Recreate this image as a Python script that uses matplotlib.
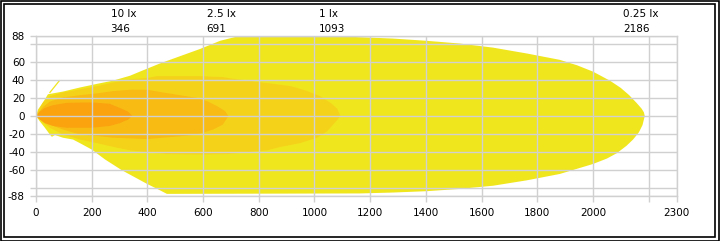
import numpy as np
import matplotlib
matplotlib.use("Agg")
import matplotlib.pyplot as plt
from matplotlib.patches import Rectangle

# isolux outlines (distance in m, lateral in m)
outer_top_x = [0, 7, 25, 43, 61, 97, 158, 219, 276, 338, 373, 445, 517, 589, 661, 725,
               1090, 1163, 1282, 1404, 1522, 1641, 1763, 1881, 1943, 2000, 2061, 2100,
               2130, 2158, 2175, 2183, 2186]
outer_top_y = [0, 7, 15, 24, 25, 27, 31.5, 35.5, 39, 44.5, 49, 58, 66, 74, 83, 88,
               88, 87, 85.5, 83, 80, 75.5, 69, 62, 56, 49, 39, 31,
               23, 14, 8, 4, 0]
outer_bot_x = [0, 14, 32, 50, 57, 68, 97, 133, 158, 200, 248, 309, 399, 445, 470,
               1163, 1282, 1404, 1522, 1641, 1763, 1881, 2000, 2050, 2086, 2120, 2144,
               2165, 2178, 2186]
outer_bot_y = [0, -6, -13, -20.5, -23, -21, -24, -26, -30, -37, -48, -60, -75, -82, -86,
               -85.5, -84.5, -83, -80.5, -77, -71, -64, -53, -47, -41, -33, -26,
               -18, -10, 0]

lx1_top_x = [0, 14, 25, 50, 97, 158, 219, 276, 338, 399, 434, 589, 671, 700, 760, 840,
             915, 970, 1020, 1060, 1082, 1093]
lx1_top_y = [0, 9, 15, 22, 26, 29.5, 33, 37, 40.5, 42, 44, 44, 43, 41.5, 39, 36,
             33, 28, 22, 14, 8, 0]
lx1_bot_x = [0, 14, 25, 50, 97, 158, 219, 276, 338, 399, 470, 589, 689, 758, 829, 880,
             948, 1009, 1045, 1080, 1093]
lx1_bot_y = [0, -4, -7, -13, -20.5, -26, -30, -34, -38, -40, -42, -42.5, -42, -40, -38, -34,
             -30, -24, -17, -5, 0]

lx25_top_x = [0, 25, 50, 97, 158, 219, 276, 338, 399, 456, 517, 578, 614, 650, 679, 691]
lx25_top_y = [0, 10, 16, 20.5, 23, 25, 27.5, 29, 29, 26, 23, 20, 16.5, 11, 5.5, 0]
lx25_bot_x = [0, 25, 50, 97, 158, 219, 276, 399, 456, 517, 578, 636, 671, 691]
lx25_bot_y = [0, -5, -9.5, -15, -20.5, -22, -24, -25.5, -24, -22.4, -20.5, -15, -9.5, 0]

lx10_top_x = [0, 14, 32, 61, 110, 200, 265, 300, 330, 346]
lx10_top_y = [0, 5, 9, 12, 14.5, 15, 13.5, 9, 5, 0]
lx10_bot_x = [0, 14, 32, 61, 110, 200, 265, 300, 330, 346]
lx10_bot_y = [0, -4, -8, -11, -13, -13, -11, -8, -4, 0]

spike_x = [50, 84]
spike_y = [26, 39]

lux_names = ["10 lx", "2.5 lx", "1 lx", "0.25 lx"]
lux_dist = [346, 691, 1093, 2186]

x_ticks = [0, 200, 400, 600, 800, 1000, 1200, 1400, 1600, 1800, 2000, 2200, 2300]
x_labels = ["0", "200", "400", "600", "800", "1000", "1200", "1400", "1600", "1800", "2000", "", "2300"]
y_ticks = [-88, -80, -60, -40, -20, 0, 20, 40, 60, 80, 88]
y_labels = ["-88", "", "-60", "-40", "-20", "0", "20", "40", "60", "", "88"]

fig = plt.figure(figsize=(7.2, 2.41), dpi=100)
ax = fig.add_axes([36 / 720, 1 - 195.7 / 241, 640.5 / 720, 159.4 / 241])

shapes = [
    (outer_top_x, outer_top_y, outer_bot_x, outer_bot_y, "#f0e61e"),
    (lx1_top_x, lx1_top_y, lx1_bot_x, lx1_bot_y, "#f5d21a"),
    (lx25_top_x, lx25_top_y, lx25_bot_x, lx25_bot_y, "#f8bb14"),
    (lx10_top_x, lx10_top_y, lx10_bot_x, lx10_bot_y, "#faa30f"),
]
for tx, ty, bx, by, c in shapes:
    px = list(tx) + list(bx[::-1])
    py = list(ty) + list(by[::-1])
    ax.fill(px, py, color=c, lw=0, zorder=1)
ax.plot(spike_x, spike_y, color="#f0e61e", lw=0.9, zorder=1)

ax.set_xlim(0, 2300)
ax.set_ylim(-88, 88)
ax.set_xticks(x_ticks)
ax.set_xticklabels(x_labels)
ax.set_yticks(y_ticks)
ax.set_yticklabels(y_labels)
ax.grid(True, color="#d0d0d0", lw=1, zorder=2)
ax.set_axisbelow(False)
for s in ax.spines.values():
    s.set_color("#d0d0d0")
    s.set_linewidth(1)
ax.tick_params(colors="#d0d0d0", length=4, width=1, labelcolor="black", labelsize=7.5)
ax.tick_params(axis="x", pad=5)
ax.tick_params(axis="y", pad=4)

tr = ax.get_xaxis_transform()
for name, d in zip(lux_names, lux_dist):
    ax.text(d - 78, 1.137, name, transform=tr, ha="left", va="center", fontsize=7.5)
    ax.text(d - 78, 1.046, str(d), transform=tr, ha="left", va="center", fontsize=7.5)

# double frame round the picture
fig.patches.append(Rectangle((0.5 / 720, 0.5 / 241), 718.5 / 720, 239.5 / 241, fill=False,
                             ec="black", lw=1.2, transform=fig.transFigure))
fig.patches.append(Rectangle((3.5 / 720, 4.5 / 241), 711 / 720, 233 / 241, fill=False,
                             ec="black", lw=1.2, transform=fig.transFigure))

fig.savefig("out.png", dpi=100)
